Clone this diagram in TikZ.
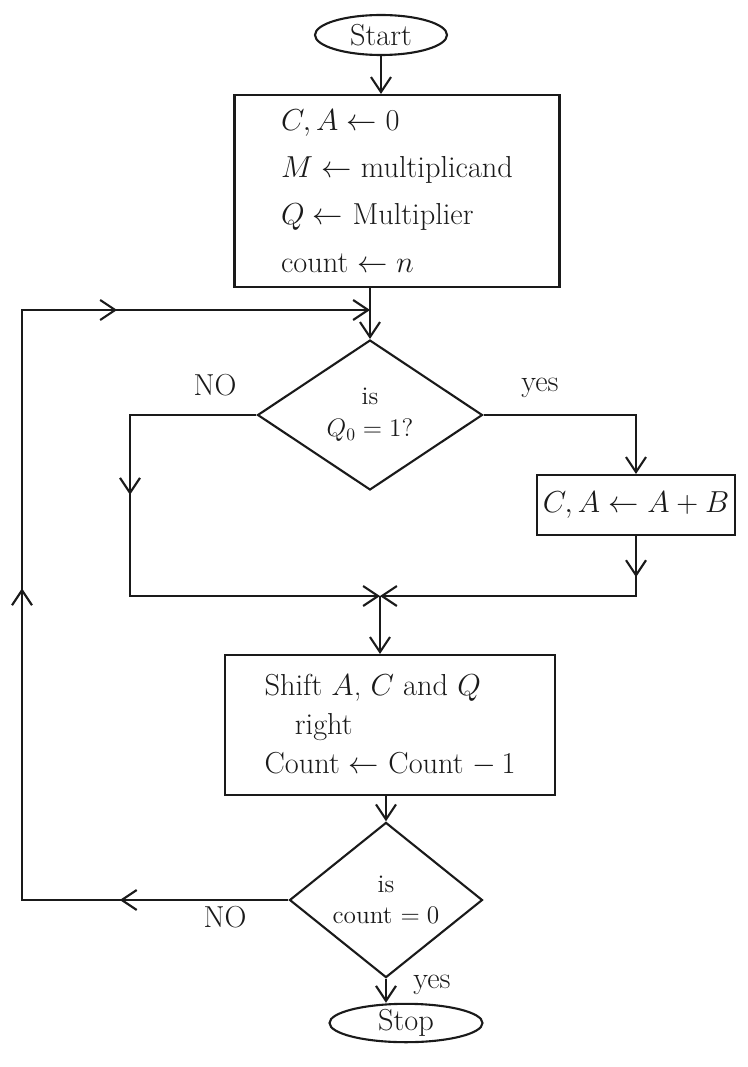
\documentclass[tikz,border=0pt]{standalone}
\usepackage{tikz}
\usepackage{xcolor}
\usetikzlibrary{shapes.geometric,arrows.meta,decorations.markings}
\definecolor{penink}{HTML}{1A1A1A}

\begin{document}
\begin{tikzpicture}[x=0.02cm, y=-0.02cm, line width=1.2pt, penink,
    >={Straight Barb[length=3mm,width=4mm]},
    box/.style={draw, rectangle, inner sep=0pt, font=\LARGE},
    decide/.style={draw, diamond, inner sep=0pt, align=center, font=\Large},
    term/.style={draw, ellipse, inner sep=0pt, font=\LARGE},
    midarrow/.style={postaction={decorate, decoration={markings, mark=at position #1 with {\arrow{>}}}}}]
      \useasboundingbox (0,0) rectangle (747,1067);
      % flow nodes
      \node[term, minimum width=2.64cm, minimum height=0.8cm] (start) at (381,35) {Start};
      \node[box, minimum width=6.5cm, minimum height=3.84cm, align=left] (init) at (397,191)
        {$C, A \leftarrow 0$\\[5pt] $M \leftarrow$ multiplicand\\[5pt] $Q \leftarrow$ Multiplier\\[5pt] count $\leftarrow n$};
      \node[decide, minimum width=4.5cm, minimum height=3cm] (qtest) at (370,415) {is\\$Q_0 = 1$?};
      \node[box, minimum width=3.96cm, minimum height=1.2cm] (add) at (636,505) {$C, A \leftarrow A + B$};
      \node[box, minimum width=6.6cm, minimum height=2.8cm, align=left] (shift) at (390,725)
        {Shift $A$, $C$ and $Q$\\ \quad right\\ Count $\leftarrow$ Count $-\,1$};
      \node[decide, minimum width=3.86cm, minimum height=2.54cm] (ctest) at (386,900) {is\\count $= 0$};
      \node[term, minimum width=3.06cm, minimum height=0.74cm] (stop) at (406,1023) {Stop};
      % branch labels
      \node[font=\LARGE] (noA) at (215,385) {NO};
      \node[font=\LARGE] (yesA) at (540,388) {yes};
      \node[font=\LARGE] (noB) at (225,917) {NO};
      \node[font=\LARGE] (yesB) at (432,985) {yes};
      \coordinate (merge) at (380,596);
      \coordinate (noturn) at (130,596);
      \coordinate (looptop) at (22,310);
      % connectors
      \draw[->] (start) -- (start |- init.north);
      \draw[->] (qtest.north |- init.south) -- (qtest.north);
      \draw[->] (qtest.east) -- (qtest.east -| add.north) -- (add.north);
      \draw[->, midarrow=0.37] (qtest.west) -- (qtest.west -| noturn) -- (noturn) -- (merge);
      \draw[->, midarrow=0.13] (add.south) -- (add.south |- merge) -- (merge);
      \draw[->] (merge) -- (merge |- shift.north);
      \draw[->] (ctest.north |- shift.south) -- (ctest.north);
      \draw[->] (ctest.south) -- (ctest.south |- stop.north);
      \draw[->, midarrow=0.14, midarrow=0.48, midarrow=0.79] (ctest.west) -- (ctest.west -| looptop)
        -- (looptop) -- (qtest.north |- looptop);
\end{tikzpicture}
\end{document}
